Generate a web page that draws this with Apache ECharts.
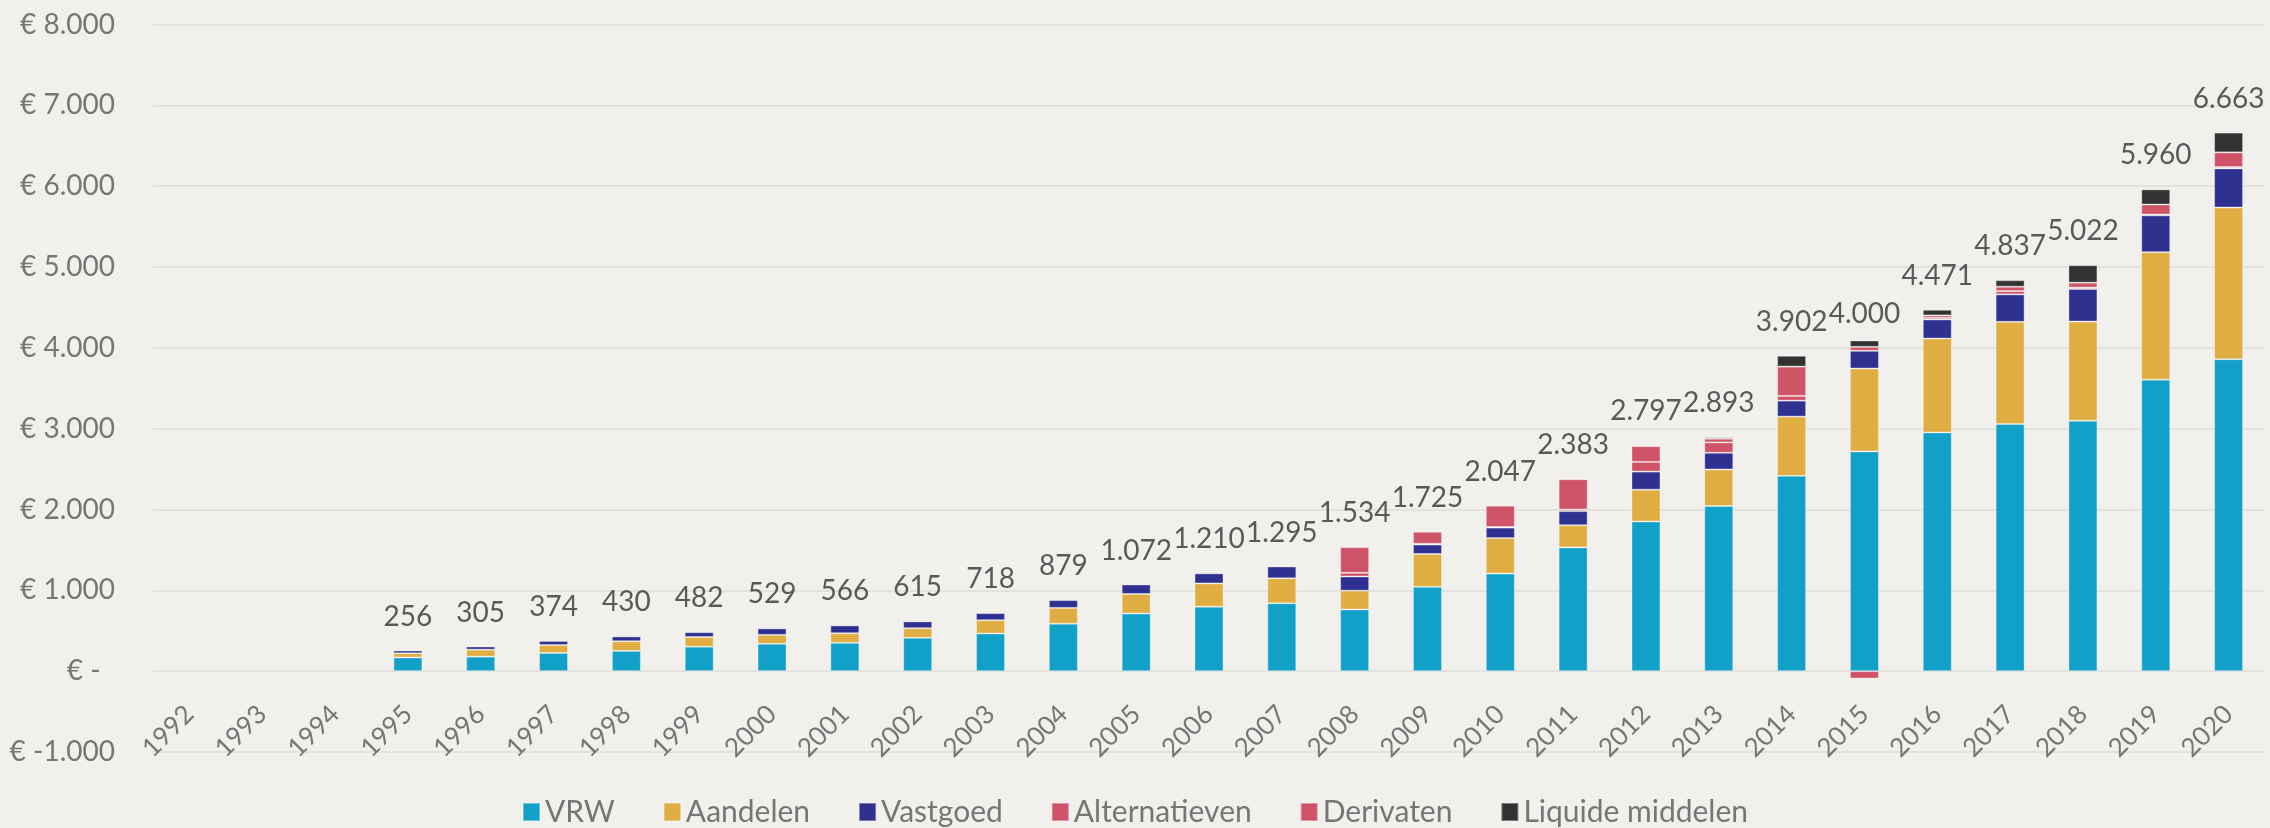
<!DOCTYPE html>
<html>
<head>
<meta charset="utf-8">
<script src="https://cdn.jsdelivr.net/npm/echarts@6/dist/echarts.min.js"></script>
<style>
  html, body { margin: 0; padding: 0; background: #F1F0EC; }
  #chart { width: 2270px; height: 828px; }
</style>
</head>
<body>
<div id="chart"></div>
<script>
// Belegd vermogen per jaar (x € 1 mln), opgebouwd per beleggingscategorie
const years = ['1992','1993','1994','1995','1996','1997','1998','1999','2000','2001','2002','2003','2004','2005','2006','2007','2008','2009','2010','2011','2012','2013','2014','2015','2016','2017','2018','2019','2020'];

const vrw = [null, null, null, 169, 180, 225, 251, 303, 339, 351, 413, 466, 587, 713, 798, 840, 763, 1043, 1207, 1531, 1851, 2043, 2417, 2719, 2954, 3058, 3099, 3606, 3860];
const aandelen = [null, null, null, 52, 86, 98, 119, 120, 110, 118, 118, 164, 196, 242, 287, 309, 233, 407, 439, 274, 394, 452, 732, 1025, 1161, 1264, 1226, 1577, 1876];
const vastgoed = [null, null, null, 35, 39, 51, 60, 59, 80, 97, 84, 88, 96, 117, 125, 146, 175, 116, 130, 175, 224, 207, 198, 219, 236, 339, 403, 456, 484];
const alternatieven = [null, null, null, null, null, null, null, null, null, null, null, null, null, null, null, null, 46, 10, 8, 20, 120, 128, 58, 49, 20, 41, 17, 10, 16];
const derivaten = [null, null, null, null, null, null, null, null, null, null, null, null, null, null, null, null, 317, 149, 263, 375, 195, 46, 363, -91, 30, 54, 61, 124, 182];
const liquide = [null, null, null, null, null, null, null, null, null, null, null, null, null, null, null, null, null, null, null, 8, 13, 17, 134, 79, 70, 81, 216, 187, 245];

// Totaal per jaar, getoond boven de kolommen
const totaal = [null, null, null, 256, 305, 374, 430, 482, 529, 566, 615, 718, 879, 1072, 1210, 1295, 1534, 1725, 2047, 2383, 2797, 2893, 3902, 4000, 4471, 4837, 5022, 5960, 6663];

const yTicks = { min: -1000, max: 8000, step: 1000 };

const FONT = 'Lato';
const AXIS_GREY = '#767676';
const LABEL_GREY = '#595959';
const GRID_LINE = '#DFDEDA';

function thousands(n) {
  return String(Math.abs(n)).replace(/\B(?=(\d{3})+(?!\d))/g, '.');
}
function euro(v) {
  if (v === 0) return '€ -  ';
  return '€ ' + (v < 0 ? '-' : '') + thousands(v);
}

const BAR_W = 29;
const segBorder = { borderColor: 'rgba(255,255,255,0.35)', borderWidth: 1 };

function stackSeries(name, data, color) {
  return {
    name: name,
    type: 'bar',
    stack: 'vermogen',
    data: data,
    barWidth: BAR_W,
    barGap: '-100%',
    itemStyle: Object.assign({ color: color }, segBorder),
    emphasis: { disabled: true }
  };
}

const chart = echarts.init(document.getElementById('chart'), null, { renderer: 'canvas' });

chart.setOption({
  backgroundColor: '#F1F0EC',
  animation: false,
  textStyle: { fontFamily: FONT },
  grid: {
    left: 153,
    right: 5,
    top: 24.5,
    bottom: 76,
    containLabel: false,
    outerBoundsMode: 'none'
  },
  legend: {
    data: ['VRW', 'Aandelen', 'Vastgoed', 'Alternatieven', 'Derivaten', 'Liquide middelen'],
    left: 'center',
    top: 792,
    itemWidth: 17,
    itemHeight: 18,
    itemGap: 48,
    icon: 'rect',
    textStyle: { fontFamily: FONT, fontSize: 30, color: AXIS_GREY }
  },
  xAxis: {
    type: 'category',
    data: years,
    axisLine: { show: false },
    axisTick: { show: false },
    axisLabel: {
      interval: 0,
      rotate: 45,
      // labels sit just below the zero line, inside the plot area
      margin: -42,
      fontFamily: FONT,
      fontSize: 26,
      color: AXIS_GREY
    }
  },
  yAxis: {
    type: 'value',
    min: yTicks.min,
    max: yTicks.max,
    interval: yTicks.step,
    axisLine: { show: false },
    axisTick: { show: false },
    splitLine: { lineStyle: { color: GRID_LINE, width: 1.5 } },
    axisLabel: {
      margin: 38,
      fontFamily: FONT,
      fontSize: 28,
      color: AXIS_GREY,
      formatter: euro
    }
  },
  series: [
    stackSeries('VRW', vrw, '#11A0C8'),
    stackSeries('Aandelen', aandelen, '#DFAD41'),
    stackSeries('Vastgoed', vastgoed, '#2E3190'),
    stackSeries('Alternatieven', alternatieven, '#CF5468'),
    stackSeries('Derivaten', derivaten, '#CF5468'),
    stackSeries('Liquide middelen', liquide, '#333333'),
    {
      name: 'Totaal',
      type: 'bar',
      data: totaal,
      barWidth: BAR_W,
      barGap: '-100%',
      silent: true,
      itemStyle: { color: 'rgba(0,0,0,0)' },
      label: {
        show: true,
        position: 'top',
        distance: 20,
        fontFamily: FONT,
        fontSize: 28,
        color: LABEL_GREY,
        formatter: function (p) { return p.value == null ? '' : thousands(p.value); }
      },
      z: 5
    }
  ]
});
</script>
</body>
</html>
